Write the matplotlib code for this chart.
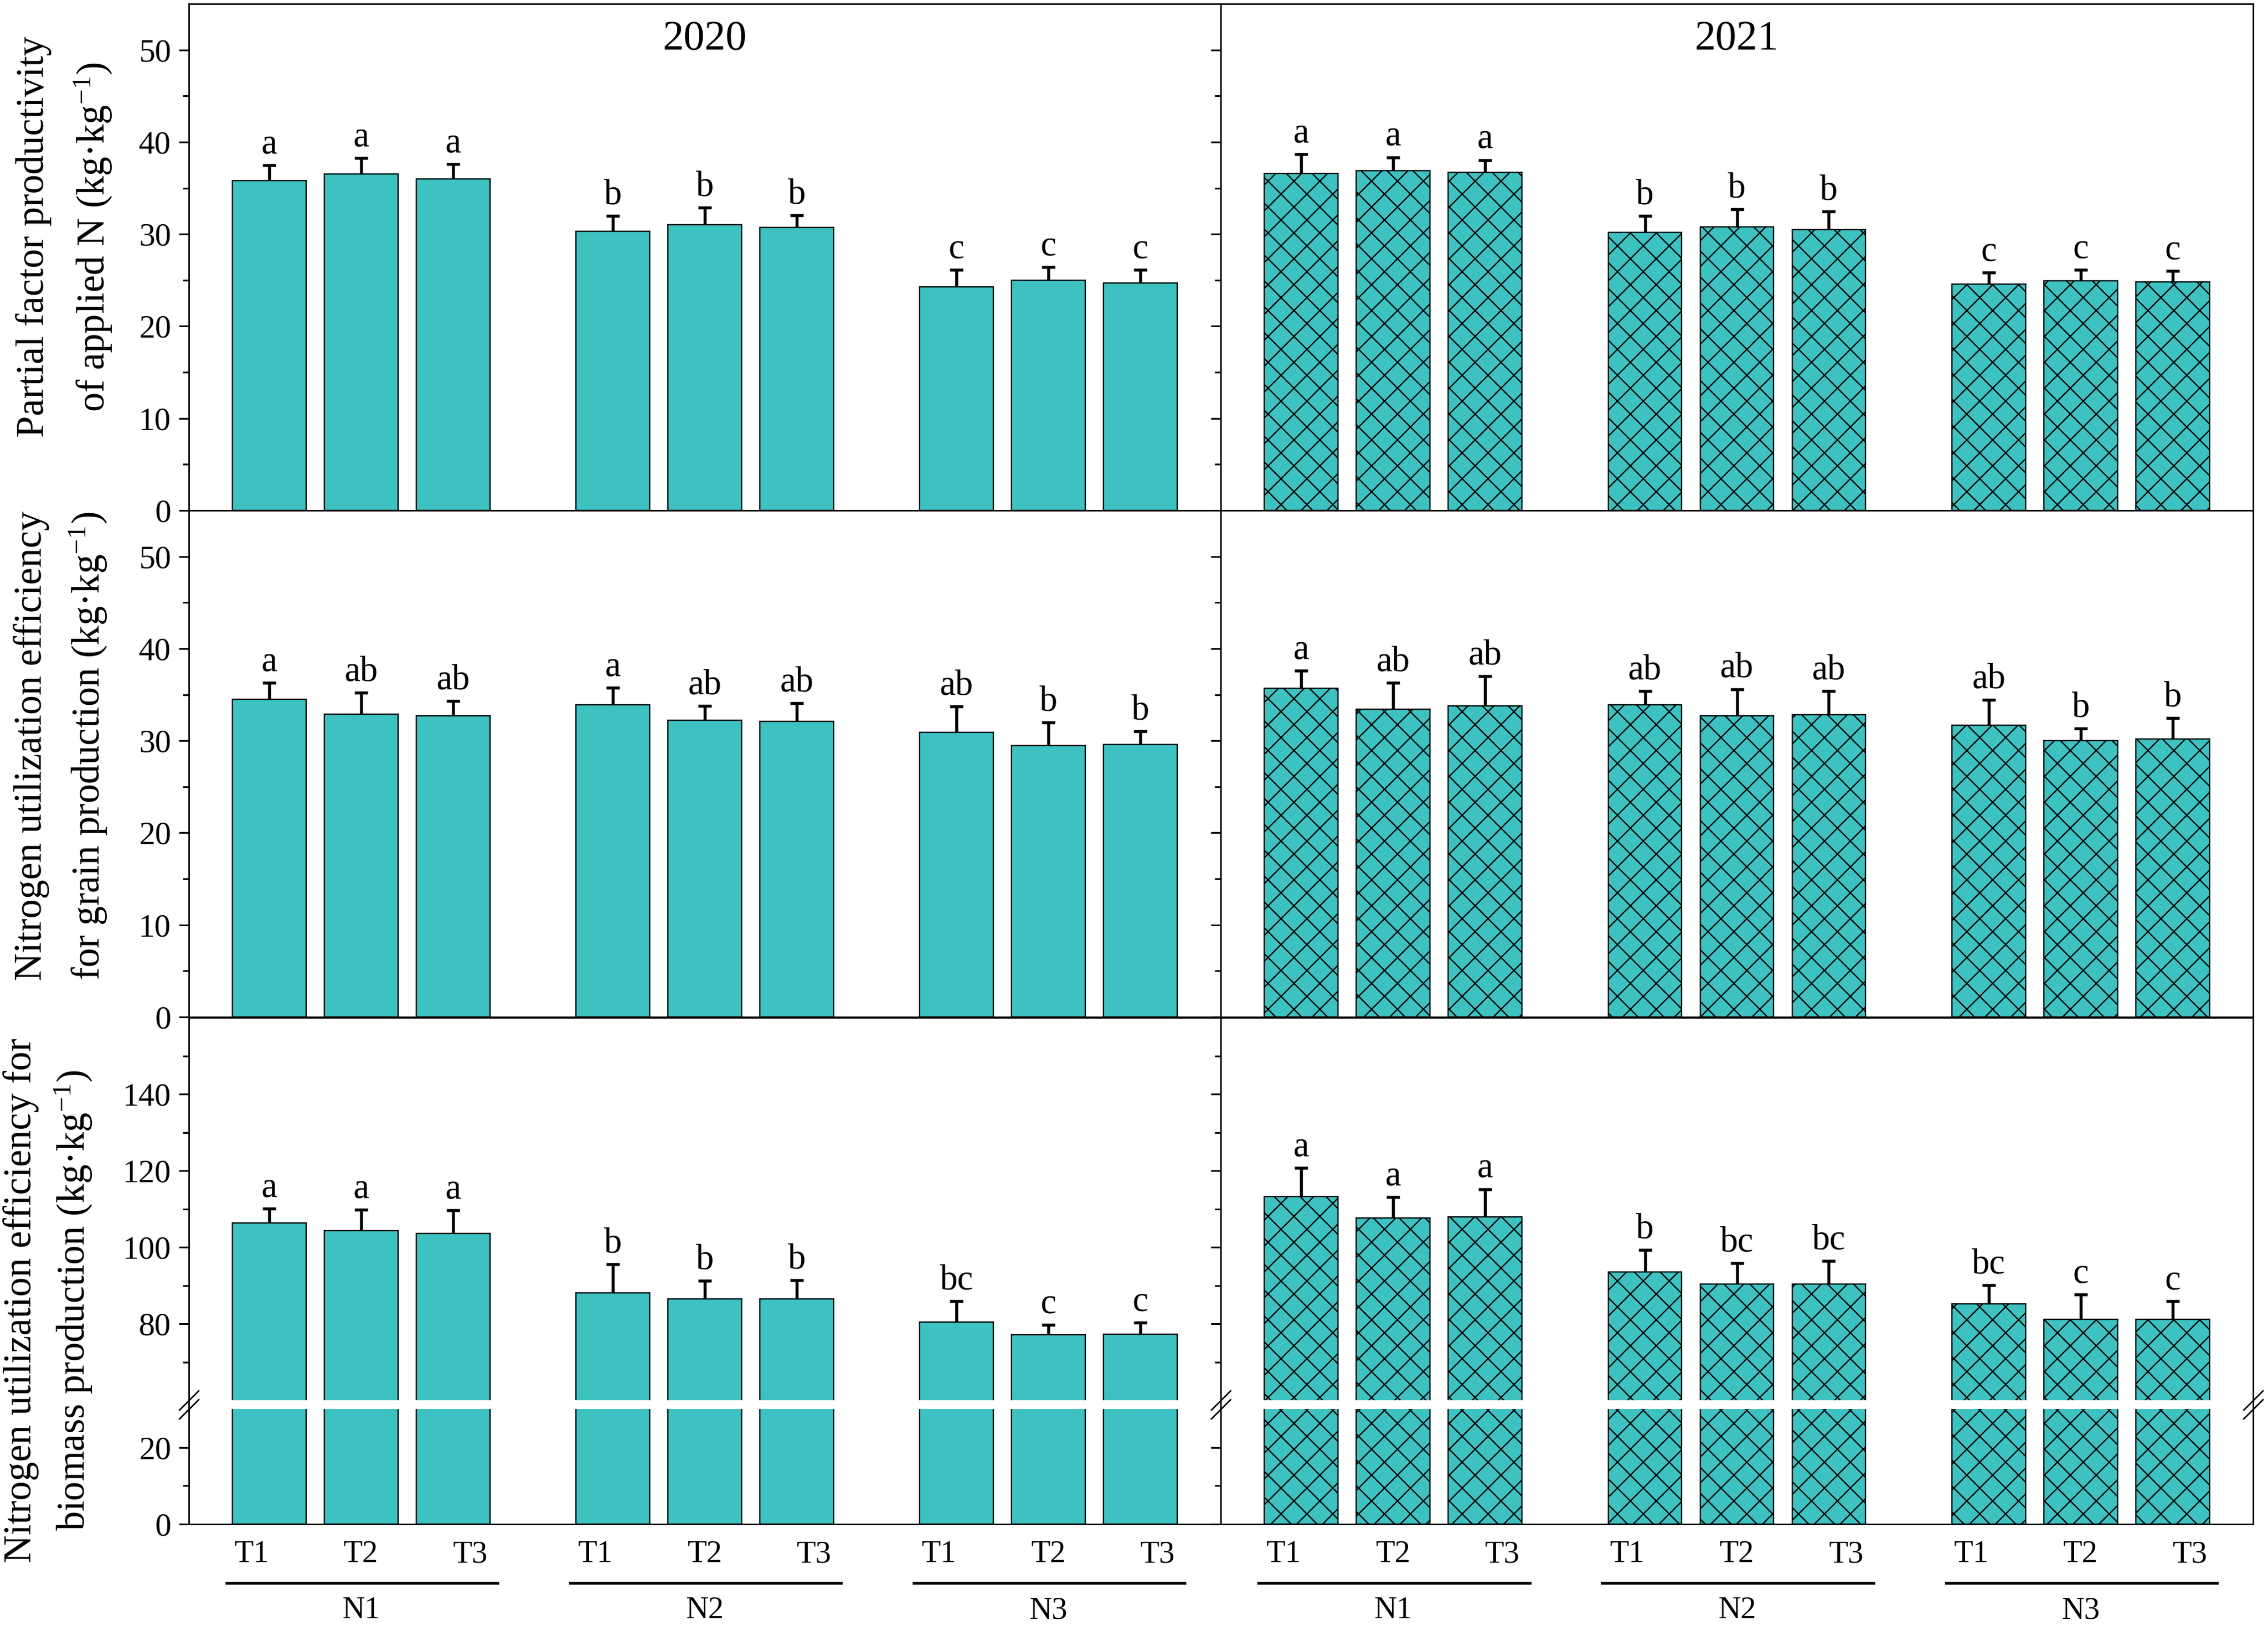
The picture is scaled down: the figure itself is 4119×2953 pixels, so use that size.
import numpy as np
import matplotlib
matplotlib.use("Agg")
import matplotlib.pyplot as plt
from matplotlib.ticker import FixedLocator, FuncFormatter

# x categories
treatments = ["T1", "T2", "T3"]
n_levels = ["N1", "N2", "N3"]
years = ["2020", "2021"]

# partial factor productivity of applied N (order N1T1..N3T3)
pfp_2020 = [35.8, 36.5, 36.0, 30.3, 31.0, 30.7, 24.3, 25.0, 24.7]
pfp_2020_err = [1.7, 1.75, 1.6, 1.7, 1.9, 1.35, 1.85, 1.4, 1.4]
pfp_2020_sig = ["a", "a", "a", "b", "b", "b", "c", "c", "c"]
pfp_2021 = [36.6, 36.9, 36.7, 30.2, 30.8, 30.5, 24.6, 24.9, 24.8]
pfp_2021_err = [2.1, 1.45, 1.35, 1.8, 1.9, 1.95, 1.2, 1.25, 1.2]
pfp_2021_sig = ["a", "a", "a", "b", "b", "b", "c", "c", "c"]

# N utilization efficiency for grain production
nueg_2020 = [34.5, 32.9, 32.7, 33.9, 32.2, 32.1, 30.9, 29.5, 29.6]
nueg_2020_err = [1.8, 2.3, 1.6, 1.85, 1.55, 1.95, 2.8, 2.5, 1.4]
nueg_2020_sig = ["a", "ab", "ab", "a", "ab", "ab", "ab", "b", "b"]
nueg_2021 = [35.7, 33.4, 33.8, 33.9, 32.7, 32.8, 31.7, 30.0, 30.2]
nueg_2021_err = [1.9, 2.9, 3.2, 1.5, 2.9, 2.6, 2.75, 1.35, 2.25]
nueg_2021_sig = ["a", "ab", "ab", "ab", "ab", "ab", "ab", "b", "b"]

# N utilization efficiency for biomass production
nueb_2020 = [106.3, 104.3, 103.6, 88.1, 86.5, 86.5, 80.5, 77.1, 77.3]
nueb_2020_err = [3.8, 5.5, 6.0, 7.5, 4.8, 4.9, 5.4, 2.6, 3.0]
nueb_2020_sig = ["a", "a", "a", "b", "b", "b", "bc", "c", "c"]
nueb_2021 = [113.2, 107.6, 107.9, 93.6, 90.4, 90.4, 85.2, 81.2, 81.2]
nueb_2021_err = [7.6, 5.45, 7.3, 5.75, 5.5, 6.1, 4.9, 6.4, 4.75]
nueb_2021_sig = ["a", "a", "a", "b", "bc", "bc", "bc", "c", "c"]

ylabels = [
    ["Partial factor productivity", "of applied N (kg·kg$^{-1}$)"],
    ["Nitrogen utilization efficiency", "for grain production (kg·kg$^{-1}$)"],
    ["Nitrogen utilization efficiency for", "biomass production (kg·kg$^{-1}$)"],
]

plt.rcParams["font.family"] = "Liberation Serif"
plt.rcParams["mathtext.fontset"] = "custom"
plt.rcParams["mathtext.rm"] = "Liberation Serif"
plt.rcParams["mathtext.it"] = "Liberation Serif:italic"
plt.rcParams["hatch.linewidth"] = 0.6

DPI = 282
W, H = 4119, 2953
GP = 3.74       # distance between N groups (bar pitch = 1)
BAR_W = 0.8
FILL = "#3ec1c1"
LO, HI, GAP = 30.0, 60.0, 2.3   # broken axis on last row


def fwd(y):  # squeeze 30..60 into a small gap
    y = np.asarray(y, float)
    return np.where(y <= LO, y, np.where(y >= HI, y - HI + LO + GAP, LO + (y - LO) * GAP / (HI - LO)))


def inv(z):
    z = np.asarray(z, float)
    return np.where(z <= LO, z, np.where(z >= LO + GAP, z - LO - GAP + HI, LO + (z - LO) * (HI - LO) / GAP))


xpos = np.array([g * GP + t for g in range(len(n_levels)) for t in range(len(treatments))])

fig = plt.figure(figsize=(W / DPI, H / DPI), dpi=DPI)
col_x = [343 / W, 2217 / W]
col_w = [1874 / W, 1875 / W]
row_top = [7, 927, 1848]
row_h = 920

data = [
    [(pfp_2020, pfp_2020_err, pfp_2020_sig), (pfp_2021, pfp_2021_err, pfp_2021_sig)],
    [(nueg_2020, nueg_2020_err, nueg_2020_sig), (nueg_2021, nueg_2021_err, nueg_2021_sig)],
    [(nueb_2020, nueb_2020_err, nueb_2020_sig), (nueb_2021, nueb_2021_err, nueb_2021_sig)],
]

for r in range(3):
    for c in range(2):
        ax = fig.add_axes([col_x[c], 1 - (row_top[r] + row_h) / H, col_w[c], row_h / H])
        vals, errs, sig = data[r][c]
        vals, errs = np.array(vals), np.array(errs)
        if r == 2:
            ax.set_yscale("function", functions=(fwd, inv))
        ax.bar(xpos, vals, width=BAR_W, color=FILL, edgecolor="black", linewidth=0.6,
               hatch="xx" if c == 1 else None, zorder=1)
        eb = ax.errorbar(xpos, vals, yerr=[np.zeros_like(errs), errs], fmt="none", ecolor="black",
                         elinewidth=1.4, capsize=3, capthick=1.4, zorder=3)
        eb[1][0].set_visible(False)  # no lower cap
        for xi, v, e, s in zip(xpos, vals, errs, sig):
            ax.annotate(s, xy=(xi, v + e), xytext=(0, 5.5), textcoords="offset points",
                        ha="center", va="baseline", fontsize=16.5)

        ax.set_xlim(-0.875, 2 * GP + 2 + 0.875)
        if r < 2:
            ax.set_ylim(0, 55)
            ax.yaxis.set_major_locator(FixedLocator([0, 10, 20, 30, 40, 50]))
            ax.yaxis.set_minor_locator(FixedLocator([5, 15, 25, 35, 45]))
        else:
            ax.set_ylim(0, 160)
            ax.yaxis.set_major_locator(FixedLocator([0, 20, 80, 100, 120, 140]))
            ax.yaxis.set_minor_locator(FixedLocator([10, 70, 90, 110, 130, 150]))
            ax.axhspan(LO, HI, color="white", lw=0, zorder=2.4)
            gap_lo, gap_hi = LO / (160 - HI + LO + GAP), (LO + GAP) / (160 - HI + LO + GAP)
            for sx in ([0, 1] if c == 1 else [0]):
                for sy in (gap_lo, gap_hi):
                    ax.plot([sx], [sy], transform=ax.transAxes, marker=[(-1, -1), (1, 1)],
                            markersize=9.4, mew=0.7, color="black", clip_on=False, zorder=5)
        ax.yaxis.set_major_formatter(FuncFormatter(lambda v, p: f"{v:g}"))
        ax.tick_params(axis="y", which="major", direction="out", length=4.6, width=0.8,
                       labelsize=15, pad=3.6, labelleft=(c == 0))
        ax.tick_params(axis="y", which="minor", direction="out", length=2.9, width=0.8)
        for sp in ax.spines.values():
            sp.set_linewidth(0.7)

        if r == 2:
            tick_x = [g * GP + t + d for g in range(3) for t, d in zip(range(3), [-0.19, 0, 0.19])]
            ax.set_xticks(tick_x, treatments * 3)
            ax.tick_params(axis="x", length=0, labelsize=14.5, pad=7.5)
            xt = ax.get_xaxis_transform()
            for g, name in enumerate(n_levels):
                ax.plot([g * GP - 0.48, g * GP + 2.50], [-0.1163, -0.1163], transform=xt,
                        color="black", lw=1.3, clip_on=False, solid_capstyle="butt")
                ax.text(g * GP + 1, -0.1707, name, transform=xt, ha="center", va="center", fontsize=14.5)
        else:
            ax.set_xticks([])

        if r == 0:
            ax.text(0.5, 0.93, years[c], transform=ax.transAxes, ha="center", va="center", fontsize=19.5)

# two-line y labels, one text per line
label_pos = [(79, 189, 430), (75, 180, 1355), (56, 153, 2362)]
for (l1, l2), (x1, x2, yc) in zip(ylabels, label_pos):
    for txt, xb in ((l1, x1), (l2, x2)):
        fig.text(xb / W, 1 - yc / H, txt, rotation=90, rotation_mode="anchor",
                 ha="center", va="baseline", fontsize=18)

fig.savefig("out.png", dpi=DPI)
